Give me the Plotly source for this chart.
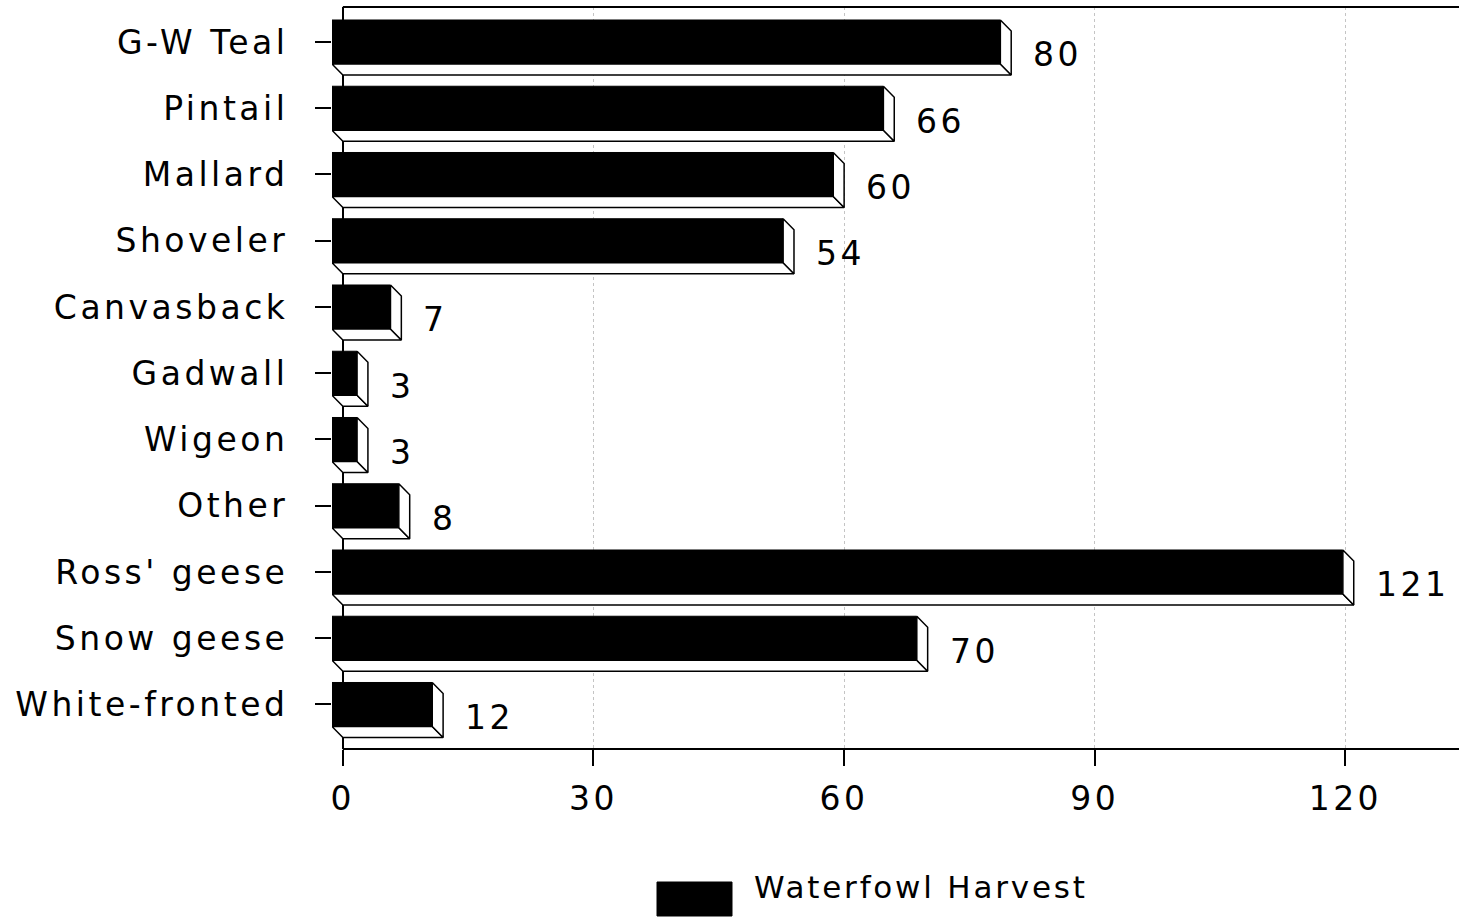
import plotly.graph_objects as go

# ---------------- data ----------------
categories = ["G-W Teal", "Pintail", "Mallard", "Shoveler", "Canvasback", "Gadwall",
              "Wigeon", "Other", "Ross' geese", "Snow geese", "White-fronted"]
harvest = [80, 66, 60, 54, 7, 3, 3, 8, 121, 70, 12]
x_tick_values = [0, 30, 60, 90, 120]
x_tick_labels = ["0", "30", "60", "90", "120"]
series_name = "Waterfowl Harvest"

# ---------------- layout constants ----------------
W, H = 1459, 924
ML, MR, MT, MB = 332, 0, 7, 175
X_RANGE = [-1.3, 133.6]
Y_RANGE = [10.672, -0.528]
DEPTH_X = 1.3      # 3-D depth in x data units
DEPTH_Y = 0.166    # 3-D depth in category units
BAR_H = 0.664
FONT = "DejaVu Sans"
PW, PH = W - ML - MR, H - MT - MB


def spaced(t, s=3.5):
    return f'<span style="letter-spacing:{s}px">{t}</span>'


def px_x(px):
    return (px - ML) / PW


def px_y(py):
    return (H - MB - py) / PH


pos = list(range(len(categories)))

fig = go.Figure()

# front faces
fig.add_trace(go.Bar(
    y=pos, x=harvest, base=-DEPTH_X, orientation="h", width=BAR_H,
    marker=dict(color="black", line=dict(color="black", width=1)),
    name=series_name, showlegend=False, hoverinfo="skip"))

# side and bottom faces
sx, sy, bx, by = [], [], [], []
for p, v in zip(pos, harvest):
    top, bot = p - BAR_H / 2, p + BAR_H / 2
    sx += [v - DEPTH_X, v, v, v - DEPTH_X, v - DEPTH_X, None]
    sy += [top, top + DEPTH_Y, bot + DEPTH_Y, bot, top, None]
    bx += [-DEPTH_X, v - DEPTH_X, v, 0, -DEPTH_X, None]
    by += [bot, bot, bot + DEPTH_Y, bot + DEPTH_Y, bot, None]

for xs, ys in ((bx, by), (sx, sy)):
    fig.add_trace(go.Scatter(
        x=xs, y=ys, mode="lines", fill="toself", fillcolor="white",
        line=dict(color="black", width=1.5), showlegend=False, hoverinfo="skip"))

# value labels
for p, v in zip(pos, harvest):
    fig.add_annotation(x=v, y=p, text=spaced(str(v)), showarrow=False,
                       xanchor="left", yanchor="middle", xshift=20, yshift=-13,
                       font=dict(family=FONT, size=33, color="black"))

# frame lines (top border and x-axis line start at x = 0)
for yy in (0, 1):
    fig.add_shape(type="line", xref="x", yref="paper", x0=0, x1=X_RANGE[1],
                  y0=yy, y1=yy, line=dict(color="black", width=2))

# manual legend
fig.add_shape(type="rect", xref="paper", yref="paper",
              x0=px_x(657), x1=px_x(732), y0=px_y(916), y1=px_y(882),
              fillcolor="black", line=dict(color="black", width=1))
fig.add_annotation(xref="paper", yref="paper", x=px_x(752), y=px_y(887),
                   text=spaced(series_name, 2.8), showarrow=False,
                   xanchor="left", yanchor="middle",
                   font=dict(family=FONT, size=31, color="black"))

fig.update_layout(
    width=W, height=H, margin=dict(l=ML, r=MR, t=MT, b=MB, pad=0),
    paper_bgcolor="white", plot_bgcolor="white", showlegend=False,
    font=dict(family=FONT, size=33, color="black"),
    xaxis=dict(range=X_RANGE, tickvals=x_tick_values,
               ticktext=[spaced(t) for t in x_tick_labels],
               ticks="outside", ticklen=16, tickwidth=1.5, tickcolor="black",
               showgrid=True, gridcolor="#c4c4c4", griddash="dot", gridwidth=1,
               zeroline=True, zerolinecolor="black", zerolinewidth=1.5,
               showline=False, ticklabelstandoff=4,
               tickfont=dict(family=FONT, size=33, color="black"), fixedrange=True),
    yaxis=dict(range=Y_RANGE, tickvals=pos, ticktext=[spaced(c) for c in categories],
               ticks="outside", ticklen=16, tickwidth=1.5, tickcolor="black",
               showgrid=False, zeroline=False, showline=False, ticklabelstandoff=20,
               tickfont=dict(family=FONT, size=33, color="black"), fixedrange=True),
)

fig.write_html("out.html", config={"displayModeBar": False},
               post_script="document.body.style.margin='0';document.body.style.overflow='hidden';")
